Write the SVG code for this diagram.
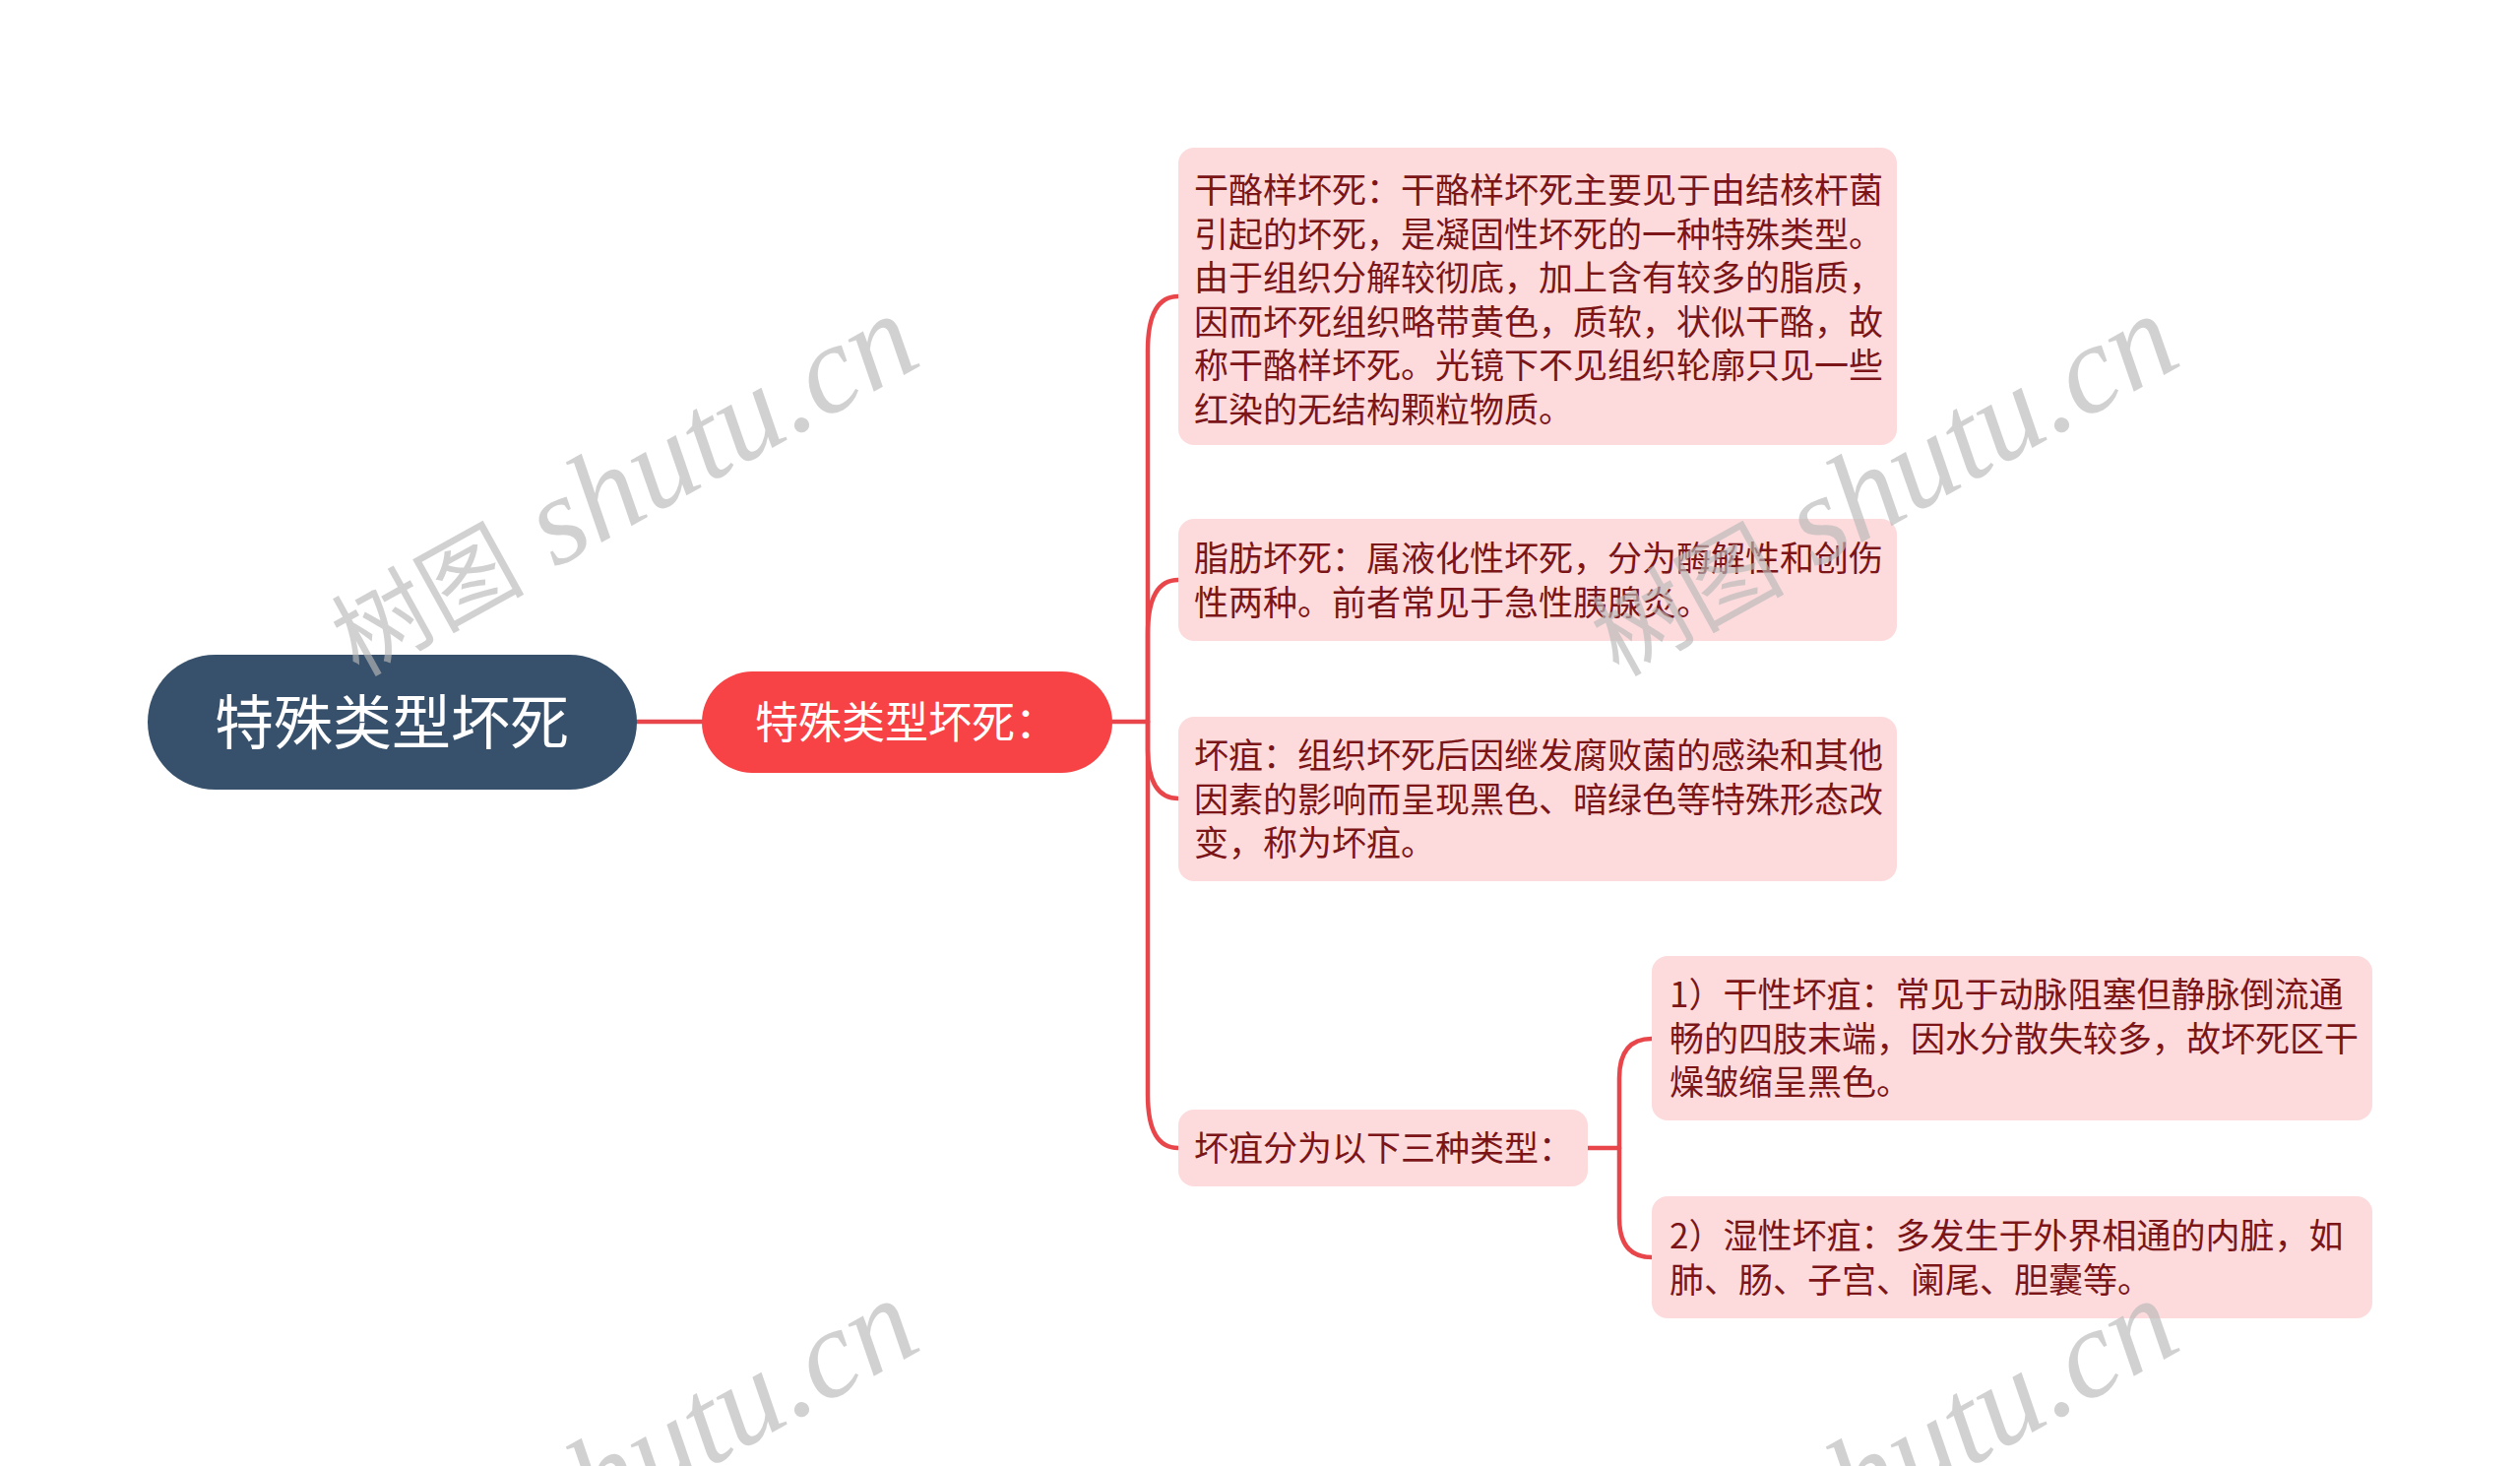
<svg xmlns="http://www.w3.org/2000/svg" width="2560" height="1489" viewBox="0 0 2560 1489">
<style>
.bg{fill:#ffffff}
.conn{fill:none;stroke:#e8464b;stroke-width:4.5;stroke-linecap:round}
.leaf rect{fill:#fddbdc}
.leaf text{font-family:"Noto Sans CJK SC","Noto Sans",sans-serif;font-size:35px;fill:#7b1518}
.wm{fill:#b8b8b8;fill-opacity:0.65}
.wm .cjk{font-family:"Noto Sans CJK SC",sans-serif;font-size:98px}
.wm .lat{font-family:"Liberation Serif",serif;font-style:italic;font-size:128px}
</style>
<rect class="bg" x="0" y="0" width="2560" height="1489"/>
<g id="connectors">
<path class="conn" d="M647,733 H713"/>
<path class="conn" d="M1130,733 H1166"/>
<path class="conn" d="M1166,733 V356 Q1166,301 1197,301"/>
<path class="conn" d="M1166,733 V644 Q1166,589 1197,589"/>
<path class="conn" d="M1166,733 V760 Q1166,811 1197,811"/>
<path class="conn" d="M1166,733 V1112 Q1166,1166 1197,1166"/>
<path class="conn" d="M1613,1166 H1645"/>
<path class="conn" d="M1645,1166 V1095 Q1645,1055 1678,1055"/>
<path class="conn" d="M1645,1166 V1237 Q1645,1277 1678,1277"/>
</g>
<g id="root">
<rect x="150" y="665" width="497" height="137" rx="68.5" fill="#37516c"/>
<text x="398" y="756" text-anchor="middle" font-family="Noto Sans CJK SC, sans-serif" font-size="60" fill="#ffffff">特殊类型坏死</text>
</g>
<g id="main">
<rect x="713" y="682" width="417" height="103" rx="51.5" fill="#f74346"/>
<text x="921" y="750" text-anchor="middle" font-family="Noto Sans CJK SC, sans-serif" font-size="44" fill="#ffffff">特殊类型坏死：</text>
</g>
<g id="n1" class="leaf">
<rect x="1197" y="150" width="730" height="302" rx="16"/>
<text x="1213" y="206">干酪样坏死：干酪样坏死主要见于由结核杆菌</text>
<text x="1213" y="250.5">引起的坏死，是凝固性坏死的一种特殊类型。</text>
<text x="1213" y="295">由于组织分解较彻底，加上含有较多的脂质，</text>
<text x="1213" y="339.5">因而坏死组织略带黄色，质软，状似干酪，故</text>
<text x="1213" y="384">称干酪样坏死。光镜下不见组织轮廓只见一些</text>
<text x="1213" y="428.5">红染的无结构颗粒物质。</text>
</g>
<g id="n2" class="leaf">
<rect x="1197" y="527" width="730" height="124" rx="16"/>
<text x="1213" y="580">脂肪坏死：属液化性坏死，分为酶解性和创伤</text>
<text x="1213" y="624.5">性两种。前者常见于急性胰腺炎。</text>
</g>
<g id="n3" class="leaf">
<rect x="1197" y="728" width="730" height="167" rx="16"/>
<text x="1213" y="780">坏疽：组织坏死后因继发腐败菌的感染和其他</text>
<text x="1213" y="824.5">因素的影响而呈现黑色、暗绿色等特殊形态改</text>
<text x="1213" y="869">变，称为坏疽。</text>
</g>
<g id="n4" class="leaf">
<rect x="1197" y="1127" width="416" height="78" rx="16"/>
<text x="1213" y="1179">坏疽分为以下三种类型：</text>
</g>
<g id="n4a" class="leaf">
<rect x="1678" y="971" width="732" height="167" rx="16"/>
<text x="1696" y="1023">1）干性坏疽：常见于动脉阻塞但静脉倒流通</text>
<text x="1696" y="1067.5">畅的四肢末端，因水分散失较多，故坏死区干</text>
<text x="1696" y="1112">燥皱缩呈黑色。</text>
</g>
<g id="n4b" class="leaf">
<rect x="1678" y="1215" width="732" height="124" rx="16"/>
<text x="1696" y="1268">2）湿性坏疽：多发生于外界相通的内脏，如</text>
<text x="1696" y="1312.5">肺、肠、子宫、阑尾、胆囊等。</text>
</g>
<g id="watermarks" class="wm">
<text transform="translate(364,688) rotate(-29)"><tspan class="cjk">树图</tspan><tspan class="lat"> shutu.cn</tspan></text>
<text transform="translate(1644,688) rotate(-29)"><tspan class="cjk">树图</tspan><tspan class="lat"> shutu.cn</tspan></text>
<text transform="translate(364,1688) rotate(-29)"><tspan class="cjk">树图</tspan><tspan class="lat"> shutu.cn</tspan></text>
<text transform="translate(1644,1688) rotate(-29)"><tspan class="cjk">树图</tspan><tspan class="lat"> shutu.cn</tspan></text>
</g>
</svg>
